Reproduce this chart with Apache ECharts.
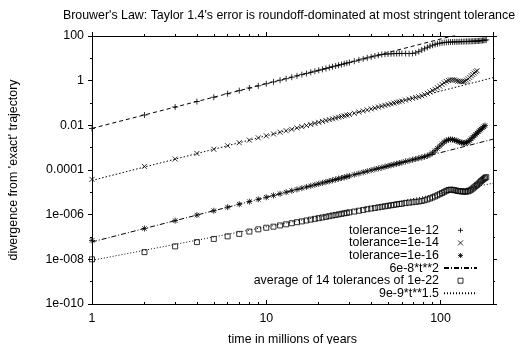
<!DOCTYPE html>
<html>
<head>
<meta charset="utf-8">
<script src="https://cdn.jsdelivr.net/npm/echarts@6/dist/echarts.min.js"></script>
<style>
  html, body { margin: 0; padding: 0; background: #fff; }
  #chart { width: 524px; height: 344px; }
</style>
</head>
<body>
<div id="chart"></div>
<script>
// ===== data =====
// time in millions of years, shared by every run
const TIMES = [
  1, 2, 3, 4, 5, 6, 7, 8, 9, 10, 11, 12, 13, 14, 15, 16, 17, 18, 19, 20,
  21, 22, 23, 24, 25, 26, 27, 28, 29, 30,
  32, 34, 36, 38, 40, 42, 44, 46, 48, 50, 52, 54, 56, 58, 60,
  63, 66, 69, 72, 75, 78, 81, 84, 87, 90, 93, 96, 99, 102, 105, 108, 111, 114, 117, 120,
  123, 126, 129, 132, 135, 138, 141, 144, 147, 150, 153, 156, 159, 162, 165, 168, 171, 174, 177, 180, 183
]

const TOL_1E12 = [
  0.0072, 0.029, 0.066, 0.116, 0.18, 0.26, 0.36, 0.47, 0.59, 0.73,
  0.88, 1.05, 1.23, 1.43, 1.64, 1.87, 2.1, 2.36, 2.64, 2.9,
  3.2, 3.5, 3.86, 4.2, 4.55, 4.9, 5.3, 5.7, 6.1, 6.5,
  7.4, 8.4, 9.4, 10.5, 11.6, 12.7, 13.8, 14.8, 15.3, 15.7, 16, 16.2, 16.4, 16.5, 16.6,
  16.5, 16.3, 16.6, 17.5, 20, 23.5, 27, 31, 35, 38.5,
  42, 45, 47.5, 49.5, 51, 52, 53, 53.5, 54, 54.5,
  55, 55, 55.5, 56, 56, 56.5, 57, 57, 57.5, 58,
  58, 58.5, 59, 59.5, 60, 61, 62, 63, 64, 65, 67
]

const TOL_1E14 = [
  3.8e-5, 1.45e-4, 3.1e-4, 5.5e-4, 8.5e-4, 1.22e-3, 1.67e-3, 2.18e-3, 2.75e-3, 3.4e-3,
  4.1e-3, 4.9e-3, 5.75e-3, 6.66e-3, 7.65e-3, 8.7e-3, 9.8e-3, 0.011, 0.0123, 0.0136,
  0.015, 0.0165, 0.018, 0.0196, 0.0213, 0.023, 0.0248, 0.0267, 0.0286, 0.0306,
  0.0348, 0.0393, 0.044, 0.049, 0.0544, 0.06, 0.0658, 0.072, 0.078, 0.085, 0.092, 0.099, 0.107, 0.114, 0.122,
  0.135, 0.148, 0.162, 0.176, 0.192, 0.21, 0.235, 0.27, 0.31, 0.36,
  0.41, 0.48, 0.57, 0.68, 0.8, 0.92, 1.02, 1.08, 1.1, 1.08,
  1.02, 0.96, 0.92, 0.9, 0.9, 0.94, 1.05, 1.2, 1.4, 1.65,
  1.9, 2.2, 2.5, 2.8
]

const TOL_1E16 = [
  7e-8, 2.4e-7, 5.4e-7, 9.6e-7, 1.5e-6, 2.16e-6, 2.94e-6, 3.84e-6, 4.86e-6, 6.0e-6,
  7.26e-6, 8.64e-6, 1.01e-5, 1.18e-5, 1.35e-5, 1.54e-5, 1.73e-5, 1.94e-5, 2.17e-5, 2.4e-5,
  2.65e-5, 2.9e-5, 3.17e-5, 3.46e-5, 3.75e-5, 4.06e-5, 4.37e-5, 4.7e-5, 5.05e-5, 5.4e-5,
  6.2e-5, 7.0e-5, 7.9e-5, 8.8e-5, 9.8e-5, 1.08e-4, 1.18e-4, 1.28e-4, 1.4e-4, 1.52e-4, 1.64e-4, 1.77e-4, 1.9e-4, 2.03e-4, 2.17e-4,
  2.4e-4, 2.62e-4, 2.86e-4, 3.12e-4, 3.38e-4, 3.66e-4, 3.95e-4, 4.3e-4, 4.9e-4, 5.9e-4,
  7.3e-4, 9.3e-4, 1.18e-3, 1.48e-3, 1.8e-3, 2.08e-3, 2.28e-3, 2.35e-3, 2.3e-3, 2.2e-3,
  2.05e-3, 1.9e-3, 1.78e-3, 1.68e-3, 1.62e-3, 1.62e-3, 1.7e-3, 1.85e-3, 2.1e-3, 2.5e-3,
  2.9e-3, 3.4e-3, 3.9e-3, 4.5e-3, 5.2e-3, 6.0e-3, 6.8e-3, 7.7e-3, 8.7e-3, 9.8e-3
]

const AVG_1E22 = [
  1.0e-8, 2.1e-8, 3.8e-8, 5.9e-8, 8.2e-8, 1.07e-7, 1.38e-7, 1.75e-7, 2.2e-7, 2.6e-7,
  2.9e-7, 3.3e-7, 3.7e-7, 4.15e-7, 4.6e-7, 5.0e-7, 5.5e-7, 6.0e-7, 6.5e-7, 7.0e-7,
  7.5e-7, 8.0e-7, 8.6e-7, 9.2e-7, 9.7e-7, 1.03e-6, 1.09e-6, 1.15e-6, 1.21e-6, 1.27e-6,
  1.38e-6, 1.5e-6, 1.63e-6, 1.76e-6, 1.88e-6, 2.0e-6, 2.12e-6, 2.25e-6, 2.37e-6, 2.5e-6, 2.62e-6, 2.75e-6, 2.87e-6, 3.0e-6, 3.1e-6,
  3.3e-6, 3.45e-6, 3.6e-6, 3.75e-6, 3.9e-6, 4.1e-6, 4.4e-6, 4.8e-6, 5.3e-6, 5.9e-6,
  6.6e-6, 7.4e-6, 8.3e-6, 9.3e-6, 1.05e-5, 1.17e-5, 1.27e-5, 1.32e-5, 1.3e-5, 1.25e-5,
  1.2e-5, 1.15e-5, 1.12e-5, 1.1e-5, 1.08e-5, 1.07e-5, 1.08e-5, 1.12e-5, 1.2e-5, 1.32e-5,
  1.48e-5, 1.67e-5, 1.9e-5, 2.15e-5, 2.45e-5, 2.8e-5, 3.2e-5, 3.6e-5, 4.0e-5, 4.4e-5, 4.8e-5
]

// reference power laws, end points at the plot edges
const FIT_T = [1, 200]
const FIT_1E12 = [0.0073, 292]
const FIT_1E14 = [3.4e-5, 1.36]
const FIT_T2 = [6e-8, 2.4e-3]      // 6e-8*t**2
const FIT_T15 = [9e-9, 2.55e-5]    // 9e-9*t**1.5

const X_TICK_EXP = [0, 1, 2]
const X_TICK_TEXT = ['1', '10', '100']
const Y_TICK_EXP = [-10, -8, -6, -4, -2, 0, 2]
const Y_TICK_TEXT = ['1e-010', '1e-008', '1e-006', '0.0001', '0.01', '1', '100']

// ===== helpers =====
const FONT = '"Liberation Sans", Arial, Helvetica, sans-serif'
const FS = 12.4

function pairs(xs, ys) {
  return ys.map((y, i) => [xs[i], y])
}

function decadeLabel(exps, texts) {
  return (v) => {
    const e = Math.log10(v)
    const r = Math.round(e)
    if (Math.abs(e - r) > 1e-6) return ''
    const i = exps.indexOf(r)
    return i < 0 ? '' : texts[i]
  }
}

// gnuplot-like point types, stroked only
const PT_PLUS = 'path://M0,4L8,4M4,0L4,8'
const PT_CROSS = 'path://M0,0L8,8M8,0L0,8'
const PT_STAR = 'path://M0,4L8,4M4,0L4,8M1,1L7,7M7,1L1,7'
const PT_BOX = 'path://M0,0L8,0L8,8L0,8Z'

const hollow = { color: 'rgba(0,0,0,0)', borderColor: '#000', borderWidth: 1 }
const noDot = { color: 'rgba(0,0,0,0)', borderWidth: 0 }

function points(name, ys, symbol, size) {
  return {
    name, type: 'scatter', data: pairs(TIMES, ys),
    symbol, symbolSize: size, itemStyle: hollow,
    xAxisIndex: 0, yAxisIndex: 0, z: 3,
  }
}

function fit(name, ys, dash) {
  return {
    name, type: 'line', data: pairs(FIT_T, ys),
    symbol: 'none', silent: true, clip: true,
    lineStyle: { color: '#000', width: 1, type: dash },
    itemStyle: noDot,
    xAxisIndex: 0, yAxisIndex: 0, z: 2,
  }
}

const tickStyle = { color: '#000', width: 1 }

function xAx(position, withLabels) {
  return {
    type: 'log', logBase: 10, min: 1, max: 200, interval: 1, position,
    axisLine: { show: true, lineStyle: tickStyle },
    axisTick: { show: true, inside: position === 'bottom', length: 4, lineStyle: tickStyle },
    minorTick: { show: true, splitNumber: 9, length: 2, lineStyle: tickStyle },
    splitLine: { show: false }, minorSplitLine: { show: false },
    axisLabel: {
      show: withLabels, formatter: decadeLabel(X_TICK_EXP, X_TICK_TEXT),
      color: '#000', fontSize: FS, fontFamily: FONT, margin: 9,
    },
    name: withLabels ? 'time in millions of years' : '',
    nameLocation: 'middle', nameGap: 30,
    nameTextStyle: { color: '#000', fontSize: FS, fontFamily: FONT },
  }
}

function yAx(position, interval, tickLen, withLabels, withLine) {
  return {
    type: 'log', logBase: 10, min: 1e-10, max: 100, interval, position,
    axisLine: { show: withLine, lineStyle: tickStyle },
    axisTick: { show: true, inside: false, length: tickLen, lineStyle: tickStyle },
    splitLine: { show: false },
    axisLabel: {
      show: withLabels, formatter: decadeLabel(Y_TICK_EXP, Y_TICK_TEXT),
      color: '#000', fontSize: FS, fontFamily: FONT, margin: 8,
    },
    name: withLabels ? "divergence from 'exact' trajectory" : '',
    nameLocation: 'middle', nameGap: 72,
    nameTextStyle: { color: '#000', fontSize: FS, fontFamily: FONT },
  }
}

// ===== chart =====
const chart = echarts.init(document.getElementById('chart'), null, { renderer: 'canvas' })

chart.setOption({
  animation: false,
  backgroundColor: '#fff',
  textStyle: { fontFamily: FONT },
  title: {
    text: "Brouwer's Law: Taylor 1.4's error is roundoff-dominated at most stringent tolerance",
    left: 284, top: 5, textAlign: 'center',
    textStyle: { fontSize: FS, fontWeight: 'normal', color: '#000', fontFamily: FONT },
  },
  grid: { left: 92, right: 31, top: 36, bottom: 40, containLabel: false, outerBoundsMode: 'none' },
  xAxis: [xAx('bottom', true), xAx('top', false)],
  yAxis: [
    yAx('left', 2, 4, true, true),
    yAx('left', 1, 2, false, false),
    yAx('right', 2, 4, false, true),
    yAx('right', 1, 2, false, false),
  ],
  legend: {
    orient: 'vertical', right: 46, top: 224, align: 'right',
    padding: 0, itemGap: 0, itemWidth: 33, itemHeight: 5,
    selectedMode: false,
    itemStyle: { borderWidth: 1 },
    textStyle: { color: '#000', fontSize: FS, fontFamily: FONT, lineHeight: 12.6 },
    data: [
      'tolerance=1e-12', 'tolerance=1e-14', 'tolerance=1e-16',
      { name: '6e-8*t**2', itemStyle: noDot },
      'average of 14 tolerances of 1e-22',
      { name: '9e-9*t**1.5', itemStyle: noDot },
    ],
  },
  series: [
    fit('fit 1e-12', FIT_1E12, [4, 3]),
    fit('fit 1e-14', FIT_1E14, [1.5, 2]),
    fit('6e-8*t**2', FIT_T2, [5, 2, 1, 2]),
    fit('9e-9*t**1.5', FIT_T15, [1, 2]),
    points('tolerance=1e-12', TOL_1E12, PT_PLUS, 6),
    points('tolerance=1e-14', TOL_1E14, PT_CROSS, 5),
    points('tolerance=1e-16', TOL_1E16, PT_STAR, 6),
    points('average of 14 tolerances of 1e-22', AVG_1E22, PT_BOX, 5),
  ],
})
</script>
</body>
</html>
